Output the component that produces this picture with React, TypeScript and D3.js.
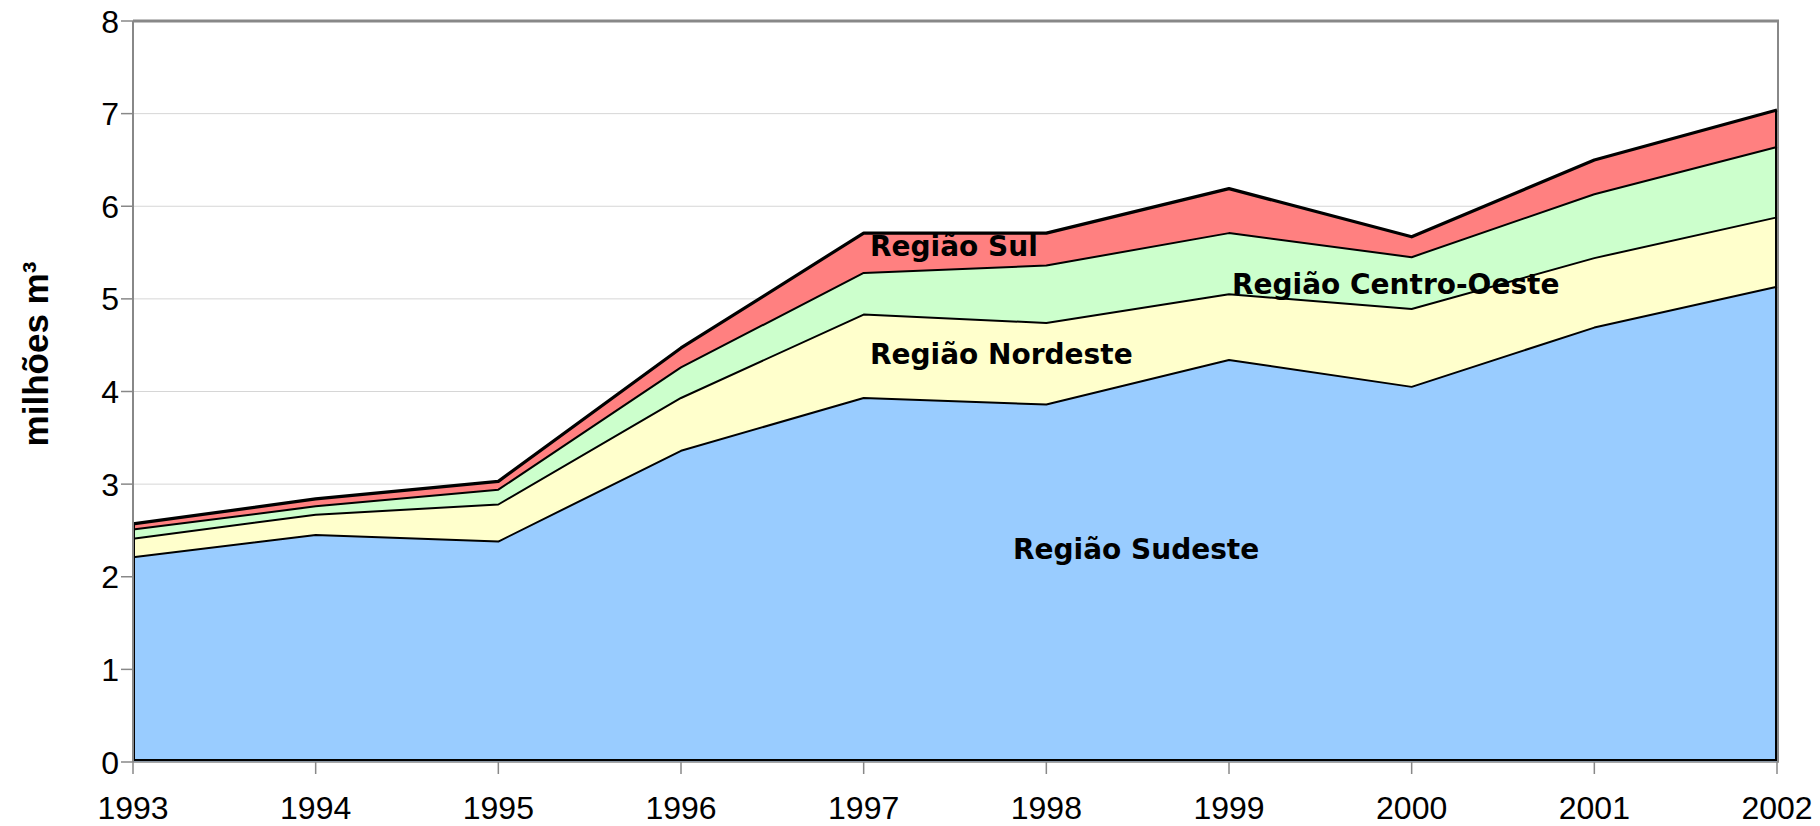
import * as d3 from "d3";

const years = [1993, 1994, 1995, 1996, 1997, 1998, 1999, 2000, 2001, 2002];
const sudeste = [2.21, 2.45, 2.38, 3.36, 3.93, 3.86, 4.34, 4.05, 4.69, 5.13];
const nordeste = [0.2, 0.22, 0.4, 0.57, 0.9, 0.88, 0.71, 0.84, 0.75, 0.75];
const centroOeste = [0.1, 0.09, 0.16, 0.33, 0.45, 0.62, 0.66, 0.56, 0.69, 0.76];
const sul = [0.06, 0.08, 0.09, 0.21, 0.43, 0.35, 0.48, 0.22, 0.37, 0.4];
const yTicks = [0, 1, 2, 3, 4, 5, 6, 7, 8];

const keys = ["sudeste", "nordeste", "centroOeste", "sul"];
const colors: { [k: string]: string } = {
  sudeste: "#99CCFF",
  nordeste: "#FFFFCC",
  centroOeste: "#CCFFCC",
  sul: "#FF8080",
};

const rows = years.map((yr, i) => ({
  year: yr,
  sudeste: sudeste[i],
  nordeste: nordeste[i],
  centroOeste: centroOeste[i],
  sul: sul[i],
}));

const width = 1820;
const height = 826;
const tickFont = "'Liberation Sans', Arial, sans-serif";
const labelFont = "'DejaVu Sans', Verdana, sans-serif";

export default function App() {
  const x = d3.scaleLinear().domain([1993, 2002]).range([133, 1777]);
  const y = d3.scaleLinear().domain([0, 8]).range([762, 21]);

  const series = d3.stack<any>().keys(keys)(rows);

  const area = d3
    .area<any>()
    .x((d) => x(d.data.year))
    .y0((d) => y(d[0]))
    .y1((d) => y(d[1]));

  const line = d3
    .line<any>()
    .x((d) => x(d.data.year))
    .y((d) => y(d[1]));

  const [x0, x1] = x.range();
  const [yb, yt] = y.range();
  const top = series[series.length - 1];

  return (
    <svg
      width={width}
      height={height}
      style={{ position: "absolute", left: 0, top: 0, background: "#fff" }}
    >
      {/* gridlines */}
      {yTicks.slice(1, -1).map((t) => (
        <line key={`g-${t}`} x1={x0} x2={x1} y1={y(t)} y2={y(t)} stroke="#d6d6d6" strokeWidth={1} />
      ))}

      {/* plot border */}
      <line x1={x0} x2={x1 + 2} y1={yt} y2={yt} stroke="#888" strokeWidth={3} />
      <line x1={x1 + 1} x2={x1 + 1} y1={yt} y2={yb} stroke="#888" strokeWidth={2} />

      {/* filled areas */}
      {series.map((s) => (
        <path key={`a-${s.key}`} d={area(s) || ""} fill={colors[s.key]} stroke="none" />
      ))}

      {/* region labels sit under the outlines */}
      <g fontFamily={labelFont} fontWeight="bold" fontSize={28} fill="#000">
        <text x={870} y={256}>Região Sul</text>
        <text x={870} y={364}>Região Nordeste</text>
        <text x={1232} y={294}>Região Centro-Oeste</text>
        <text x={1013} y={559}>Região Sudeste</text>
      </g>

      {/* outlines */}
      {series.map((s, i) => (
        <path
          key={`l-${s.key}`}
          d={line(s) || ""}
          fill="none"
          stroke="#000"
          strokeWidth={i === series.length - 1 ? 3.2 : 2}
          strokeLinejoin="round"
        />
      ))}
      <path
        d={`M${x0 + 1},${y(top[0][1])}V${yb - 2}H${x1 - 1}V${y(top[years.length - 1][1])}`}
        fill="none"
        stroke="#000"
        strokeWidth={2}
      />

      {/* axes */}
      <line x1={x0} x2={x0} y1={yt} y2={yb} stroke="#888" strokeWidth={2} />
      <line x1={x0} x2={x1 + 2} y1={yb} y2={yb} stroke="#888" strokeWidth={1.5} />
      <g fontFamily={tickFont} fontSize={32} fill="#000">
        {yTicks.map((t) => (
          <g key={`yt-${t}`}>
            <line x1={x0 - 12} x2={x0} y1={y(t)} y2={y(t)} stroke="#888" strokeWidth={1.5} />
            <text x={x0 - 14} y={y(t)} dy="0.36em" textAnchor="end">
              {t}
            </text>
          </g>
        ))}
        {years.map((yr) => (
          <g key={`xt-${yr}`}>
            <line x1={x(yr)} x2={x(yr)} y1={yb} y2={yb + 12} stroke="#888" strokeWidth={1.5} />
            <text x={x(yr)} y={819} textAnchor="middle">
              {yr}
            </text>
          </g>
        ))}
      </g>

      <text
        transform="translate(48,354) rotate(-90)"
        textAnchor="middle"
        fontFamily={tickFont}
        fontWeight="bold"
        fontSize={35}
        fill="#000"
      >
        milhões m³
      </text>
    </svg>
  );
}
